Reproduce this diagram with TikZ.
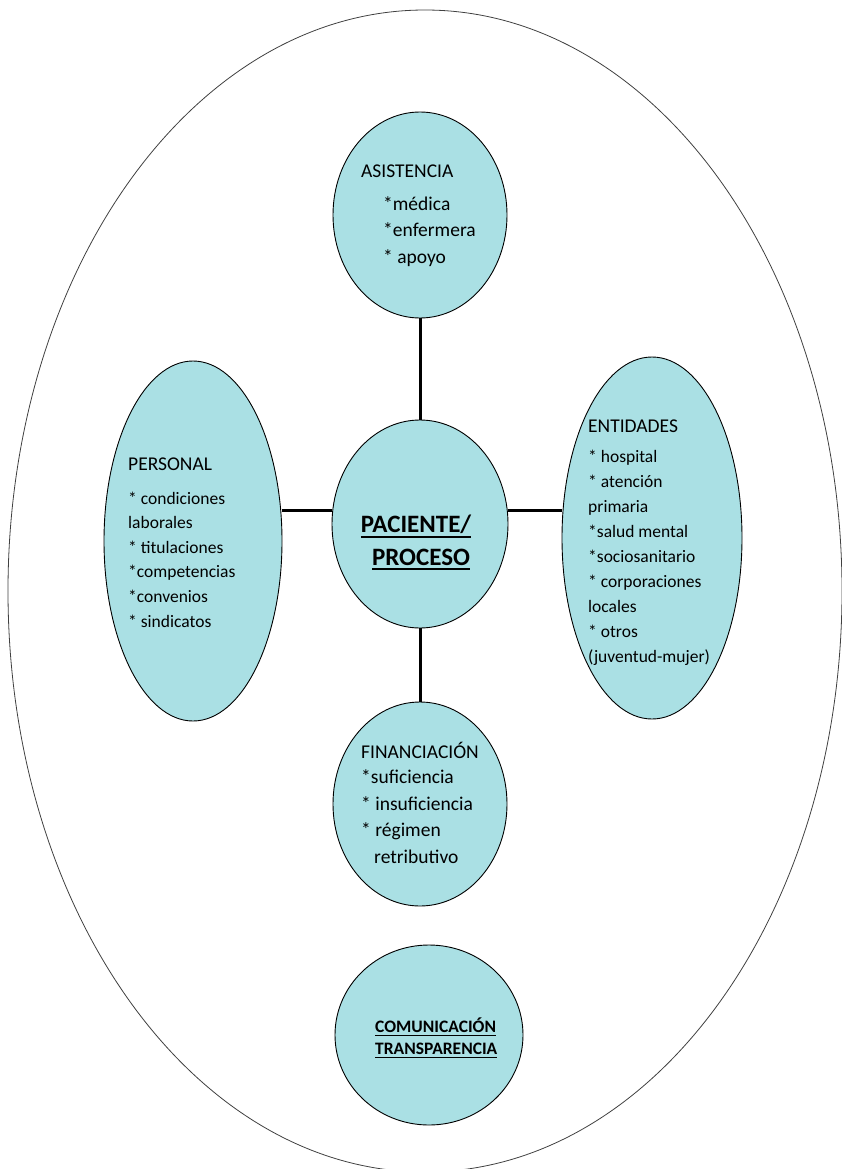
\documentclass[tikz,border=0pt]{standalone}
\usepackage{fontspec}
\setmainfont{Carlito}
\usetikzlibrary{shapes.geometric}
\definecolor{bubblefill}{RGB}{170,224,228}
\newcommand{\thickul}[2]{\leavevmode\vtop{\hbox{#2}\kern 2.5pt\hrule height #1}}

\begin{document}
\begin{tikzpicture}[
  x=1pt, y=-1pt,
  bubble/.style={ellipse, draw, line width=0.9pt, fill=bubblefill, inner sep=0pt},
  txt/.style={anchor=base west, align=left, inner sep=0pt, font=\fontsize{19.5}{26.5}\selectfont},
  link/.style={line width=3pt},
]
\useasboundingbox (0,0) rectangle (841,1169);

% outer frame
\node[ellipse, draw=black!75, line width=0.8pt, minimum width=834pt, minimum height=1162pt] (frame) at (425,591) {};

% bubbles
\node[bubble, minimum width=174pt, minimum height=206pt] (ast) at (420,215) {};
\node[bubble, minimum width=176pt, minimum height=208pt] (pac) at (420,524) {};
\node[bubble, minimum width=178pt, minimum height=360pt] (per) at (193,541) {};
\node[bubble, minimum width=180pt, minimum height=362pt] (ent) at (652,538) {};
\node[bubble, minimum width=174pt, minimum height=204pt] (fin) at (420,804) {};
\node[bubble, minimum width=188pt, minimum height=180pt] (com) at (429,1035) {};

% texts (multi-line nodes sit on their last baseline)
\node[txt] (asthead) at (361,178) {ASISTENCIA};
\node[txt] (astitems) at (383,263) {*médica\\*enfermera\\* apoyo};

\node[txt] (perhead) at (128,470) {PERSONAL};
\node[txt, font=\fontsize{17.5}{24.6}\selectfont] (peritems) at (128,627)
  {* condiciones\\laborales\\* titulaciones\\*competencias\\*convenios\\* sindicatos};

\node[txt] (enthead) at (588,432) {ENTIDADES};
\node[txt, font=\fontsize{17.5}{24.9}\selectfont] (entitems) at (588,662)
  {* hospital\\* atención\\primaria\\*salud mental\\*sociosanitario\\* corporaciones\\locales\\* otros\\(juventud-mujer)};

\node[txt] (finhead) at (361,758) {FINANCIACIÓN};
\node[txt] (finitems) at (361,863)
  {*suficiencia\\* insuficiencia\\* régimen\\\hspace*{13pt}retributivo};

\node[anchor=base, inner sep=0pt, font=\bfseries\fontsize{25}{33}\selectfont] (pac1) at (416,532) {\thickul{2.8pt}{PACIENTE/}};
\node[anchor=base, inner sep=0pt, font=\bfseries\fontsize{25}{33}\selectfont] (pac2) at (421,565) {\thickul{2.8pt}{PROCESO}};

\node[anchor=base west, inner sep=0pt, font=\bfseries\fontsize{17.5}{22}\selectfont] (com1) at (375,1032) {\thickul{1.6pt}{COMUNICACIÓN}};
\node[anchor=base west, inner sep=0pt, font=\bfseries\fontsize{17.5}{22}\selectfont] (com2) at (375,1054) {\thickul{1.6pt}{TRANSPARENCIA}};

% connectors
\draw[link] (ast.south) -- (pac.north);
\draw[link] (pac.south) -- (fin.north);
\draw[link] (pac.171) -- (pac.171 -| per.east);
\draw[link] (pac.9) -- (pac.9 -| ent.west);
\end{tikzpicture}
\end{document}
